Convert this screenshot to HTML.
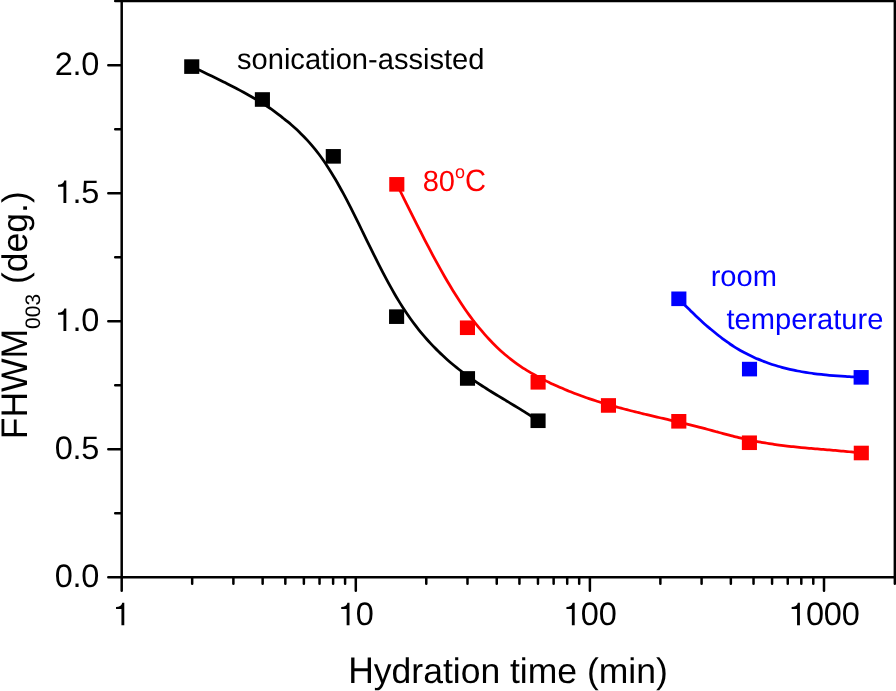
<!DOCTYPE html>
<html><head><meta charset="utf-8"><title>FHWM vs hydration time</title>
<style>
html,body{margin:0;padding:0;background:#fff;}
body{width:896px;height:691px;overflow:hidden;position:relative;font-family:"Liberation Sans",sans-serif;}
svg{will-change:transform;transform:translateZ(0);}
svg text{font-family:"Liberation Sans",sans-serif;text-rendering:geometricPrecision;}
</style></head><body>
<svg width="896" height="691" viewBox="0 0 896 691" style="position:absolute;left:0;top:0">
<path d="M108.30,577.30 L894.85,577.30 M121.70,1.10 L121.70,590.70 M115.20,1.10 L894.85,1.10 M894.85,1.10 L894.85,583.70 M115.20,513.30 L121.70,513.30 M108.30,449.30 L121.70,449.30 M115.20,385.30 L121.70,385.30 M108.30,321.30 L121.70,321.30 M115.20,257.30 L121.70,257.30 M108.30,193.30 L121.70,193.30 M115.20,129.30 L121.70,129.30 M108.30,65.30 L121.70,65.30 M192.17,577.30 L192.17,583.70 M233.39,577.30 L233.39,583.70 M262.64,577.30 L262.64,583.70 M285.33,577.30 L285.33,583.70 M303.87,577.30 L303.87,583.70 M319.54,577.30 L319.54,583.70 M333.11,577.30 L333.11,583.70 M345.09,577.30 L345.09,583.70 M355.80,577.30 L355.80,590.70 M426.27,577.30 L426.27,583.70 M467.49,577.30 L467.49,583.70 M496.74,577.30 L496.74,583.70 M519.43,577.30 L519.43,583.70 M537.97,577.30 L537.97,583.70 M553.64,577.30 L553.64,583.70 M567.21,577.30 L567.21,583.70 M579.19,577.30 L579.19,583.70 M589.90,577.30 L589.90,590.70 M660.37,577.30 L660.37,583.70 M701.59,577.30 L701.59,583.70 M730.84,577.30 L730.84,583.70 M753.53,577.30 L753.53,583.70 M772.07,577.30 L772.07,583.70 M787.74,577.30 L787.74,583.70 M801.31,577.30 L801.31,583.70 M813.29,577.30 L813.29,583.70 M824.00,577.30 L824.00,590.70" fill="none" stroke="#000" stroke-width="2.5" stroke-linecap="round"/>
<path d="M191.80,66.59 C192.46,66.91 194.45,67.84 195.78,68.47 C197.11,69.10 198.43,69.72 199.76,70.35 C201.09,70.98 202.41,71.61 203.74,72.24 C205.06,72.87 206.39,73.50 207.72,74.14 C209.04,74.77 210.37,75.41 211.70,76.05 C213.02,76.69 214.35,77.33 215.68,77.97 C217.00,78.62 218.33,79.27 219.66,79.92 C220.98,80.58 222.31,81.24 223.63,81.90 C224.96,82.56 226.29,83.23 227.61,83.90 C228.94,84.58 230.27,85.26 231.59,85.94 C232.92,86.63 234.25,87.32 235.57,88.02 C236.90,88.72 238.23,89.43 239.55,90.14 C240.88,90.85 242.20,91.57 243.53,92.30 C244.86,93.03 246.18,93.77 247.51,94.52 C248.84,95.27 250.16,96.02 251.49,96.79 C252.82,97.55 254.14,98.33 255.47,99.12 C256.80,99.90 258.12,100.70 259.45,101.50 C260.77,102.31 262.10,103.13 263.43,103.96 C264.75,104.79 266.08,105.62 267.41,106.48 C268.73,107.35 270.06,108.23 271.39,109.16 C272.71,110.10 274.04,111.09 275.37,112.08 C276.69,113.07 278.02,114.07 279.34,115.10 C280.67,116.14 282.00,117.22 283.32,118.27 C284.65,119.32 285.98,120.33 287.30,121.41 C288.63,122.48 289.96,123.56 291.28,124.69 C292.61,125.82 293.94,126.99 295.26,128.19 C296.59,129.40 297.91,130.64 299.24,131.93 C300.57,133.22 301.89,134.57 303.22,135.93 C304.55,137.30 305.87,138.70 307.20,140.14 C308.53,141.59 309.85,143.06 311.18,144.60 C312.51,146.14 313.83,147.73 315.16,149.39 C316.49,151.05 317.81,152.76 319.14,154.53 C320.46,156.31 321.79,158.13 323.12,160.02 C324.44,161.91 325.77,163.86 327.10,165.89 C328.42,167.91 329.75,170.03 331.08,172.18 C332.40,174.34 333.73,176.54 335.06,178.80 C336.38,181.05 337.71,183.36 339.03,185.71 C340.36,188.07 341.69,190.48 343.01,192.93 C344.34,195.38 345.67,197.89 346.99,200.43 C348.32,202.97 349.65,205.56 350.97,208.18 C352.30,210.80 353.63,213.45 354.95,216.12 C356.28,218.80 357.60,221.50 358.93,224.21 C360.26,226.91 361.58,229.64 362.91,232.36 C364.24,235.09 365.56,237.82 366.89,240.54 C368.22,243.26 369.54,245.98 370.87,248.67 C372.20,251.37 373.52,254.06 374.85,256.71 C376.17,259.37 377.50,262.01 378.83,264.62 C380.15,267.22 381.48,269.81 382.81,272.35 C384.13,274.89 385.46,277.41 386.79,279.88 C388.11,282.35 389.44,284.79 390.77,287.17 C392.09,289.56 393.42,291.90 394.74,294.19 C396.07,296.48 397.40,298.73 398.72,300.91 C400.05,303.10 401.38,305.22 402.70,307.29 C404.03,309.36 405.36,311.37 406.68,313.33 C408.01,315.29 409.34,317.19 410.66,319.04 C411.99,320.89 413.31,322.69 414.64,324.44 C415.97,326.19 417.29,327.90 418.62,329.56 C419.95,331.22 421.27,332.83 422.60,334.41 C423.93,335.98 425.25,337.51 426.58,339.01 C427.91,340.50 429.23,341.96 430.56,343.39 C431.89,344.81 433.21,346.20 434.54,347.56 C435.86,348.92 437.19,350.24 438.52,351.54 C439.84,352.84 441.17,354.11 442.50,355.35 C443.82,356.59 445.15,357.80 446.48,358.99 C447.80,360.18 449.13,361.34 450.46,362.47 C451.78,363.61 453.11,364.72 454.43,365.81 C455.76,366.90 457.09,367.97 458.41,369.01 C459.74,370.06 461.07,371.09 462.39,372.09 C463.72,373.10 465.05,374.09 466.37,375.06 C467.70,376.03 469.03,376.98 470.35,377.92 C471.68,378.85 473.00,379.77 474.33,380.68 C475.66,381.59 476.98,382.48 478.31,383.37 C479.64,384.25 480.96,385.12 482.29,385.98 C483.62,386.84 484.94,387.68 486.27,388.53 C487.60,389.37 488.92,390.20 490.25,391.02 C491.57,391.85 492.90,392.66 494.23,393.48 C495.55,394.29 496.88,395.10 498.21,395.90 C499.53,396.70 500.86,397.50 502.19,398.30 C503.51,399.10 504.84,399.90 506.17,400.70 C507.49,401.49 508.82,402.29 510.14,403.09 C511.47,403.89 512.80,404.69 514.12,405.49 C515.45,406.30 516.78,407.11 518.10,407.92 C519.43,408.73 520.76,409.55 522.08,410.38 C523.41,411.20 524.74,412.03 526.06,412.87 C527.39,413.72 528.71,414.56 530.04,415.42 C531.37,416.29 532.69,417.15 534.02,418.04 C535.35,418.92 537.34,420.28 538.00,420.72" fill="none" stroke="#000" stroke-width="2.75" stroke-linecap="butt" stroke-linejoin="round"/>
<path d="M396.80,184.23 C397.47,185.57 399.47,189.57 400.80,192.25 C402.14,194.92 403.47,197.60 404.81,200.28 C406.14,202.96 407.48,205.64 408.81,208.32 C410.15,210.99 411.48,213.67 412.82,216.33 C414.15,219.00 415.49,221.66 416.82,224.30 C418.16,226.95 419.49,229.59 420.83,232.21 C422.16,234.83 423.50,237.43 424.83,240.02 C426.16,242.60 427.50,245.17 428.83,247.72 C430.17,250.26 431.50,252.79 432.84,255.28 C434.17,257.77 435.51,260.25 436.84,262.69 C438.18,265.13 439.51,267.54 440.85,269.92 C442.18,272.30 443.52,274.65 444.85,276.97 C446.19,279.28 447.52,281.57 448.86,283.81 C450.19,286.06 451.53,288.27 452.86,290.45 C454.20,292.62 455.53,294.76 456.86,296.85 C458.20,298.95 459.53,301.00 460.87,303.02 C462.20,305.03 463.54,307.00 464.87,308.92 C466.21,310.85 467.54,312.73 468.88,314.57 C470.21,316.41 471.55,318.21 472.88,319.96 C474.22,321.72 475.55,323.43 476.89,325.10 C478.22,326.77 479.56,328.40 480.89,329.99 C482.23,331.58 483.56,333.13 484.89,334.64 C486.23,336.15 487.56,337.62 488.90,339.05 C490.23,340.48 491.57,341.88 492.90,343.23 C494.24,344.59 495.57,345.91 496.91,347.19 C498.24,348.47 499.58,349.71 500.91,350.92 C502.25,352.13 503.58,353.30 504.92,354.44 C506.25,355.57 507.59,356.67 508.92,357.74 C510.26,358.81 511.59,359.85 512.92,360.86 C514.26,361.87 515.59,362.84 516.93,363.79 C518.26,364.74 519.60,365.66 520.93,366.56 C522.27,367.45 523.60,368.32 524.94,369.17 C526.27,370.02 527.61,370.84 528.94,371.64 C530.28,372.44 531.61,373.22 532.95,373.99 C534.28,374.75 535.62,375.49 536.95,376.21 C538.29,376.94 539.62,377.65 540.96,378.34 C542.29,379.04 543.62,379.72 544.96,380.38 C546.29,381.05 547.63,381.71 548.96,382.35 C550.30,382.99 551.63,383.63 552.97,384.25 C554.30,384.87 555.64,385.48 556.97,386.08 C558.31,386.67 559.64,387.26 560.98,387.84 C562.31,388.42 563.65,388.98 564.98,389.54 C566.32,390.10 567.65,390.64 568.99,391.18 C570.32,391.72 571.65,392.25 572.99,392.77 C574.32,393.29 575.66,393.79 576.99,394.30 C578.33,394.80 579.66,395.29 581.00,395.77 C582.33,396.26 583.67,396.73 585.00,397.20 C586.34,397.67 587.67,398.12 589.01,398.58 C590.34,399.03 591.68,399.47 593.01,399.91 C594.35,400.35 595.68,400.78 597.02,401.20 C598.35,401.62 599.69,402.04 601.02,402.45 C602.35,402.86 603.69,403.26 605.02,403.66 C606.36,404.06 607.69,404.45 609.03,404.84 C610.36,405.22 611.70,405.60 613.03,405.98 C614.37,406.35 615.70,406.73 617.04,407.09 C618.37,407.46 619.71,407.82 621.04,408.17 C622.38,408.53 623.71,408.88 625.05,409.23 C626.38,409.58 627.72,409.93 629.05,410.27 C630.38,410.61 631.72,410.95 633.05,411.28 C634.39,411.61 635.72,411.95 637.06,412.27 C638.39,412.60 639.73,412.93 641.06,413.25 C642.40,413.58 643.73,413.90 645.07,414.22 C646.40,414.54 647.74,414.86 649.07,415.17 C650.41,415.49 651.74,415.80 653.08,416.12 C654.41,416.43 655.75,416.74 657.08,417.05 C658.41,417.37 659.75,417.68 661.08,417.99 C662.42,418.30 663.75,418.61 665.09,418.92 C666.42,419.23 667.76,419.54 669.09,419.86 C670.43,420.17 671.76,420.48 673.10,420.79 C674.43,421.11 675.77,421.42 677.10,421.74 C678.44,422.05 679.77,422.37 681.11,422.69 C682.44,423.01 683.78,423.33 685.11,423.65 C686.45,423.97 687.78,424.30 689.11,424.62 C690.45,424.95 691.78,425.28 693.12,425.61 C694.45,425.95 695.79,426.28 697.12,426.62 C698.46,426.96 699.79,427.30 701.13,427.65 C702.46,428.00 703.80,428.35 705.13,428.70 C706.47,429.06 707.80,429.41 709.14,429.77 C710.47,430.13 711.81,430.49 713.14,430.86 C714.48,431.22 715.81,431.58 717.14,431.95 C718.48,432.31 719.81,432.67 721.15,433.03 C722.48,433.39 723.82,433.75 725.15,434.11 C726.49,434.46 727.82,434.82 729.16,435.17 C730.49,435.52 731.83,435.86 733.16,436.20 C734.50,436.54 735.83,436.88 737.17,437.20 C738.50,437.53 739.84,437.85 741.17,438.16 C742.51,438.48 743.84,438.78 745.17,439.08 C746.51,439.38 747.84,439.67 749.18,439.95 C750.51,440.23 751.85,440.50 753.18,440.77 C754.52,441.04 755.85,441.29 757.19,441.54 C758.52,441.80 759.86,442.04 761.19,442.28 C762.53,442.51 763.86,442.74 765.20,442.97 C766.53,443.19 767.87,443.40 769.20,443.61 C770.54,443.82 771.87,444.02 773.21,444.22 C774.54,444.42 775.87,444.61 777.21,444.79 C778.54,444.97 779.88,445.15 781.21,445.32 C782.55,445.49 783.88,445.66 785.22,445.82 C786.55,445.98 787.89,446.14 789.22,446.29 C790.56,446.44 791.89,446.59 793.23,446.73 C794.56,446.87 795.90,447.01 797.23,447.15 C798.57,447.28 799.90,447.42 801.24,447.54 C802.57,447.67 803.90,447.80 805.24,447.92 C806.57,448.05 807.91,448.17 809.24,448.29 C810.58,448.40 811.91,448.52 813.25,448.64 C814.58,448.75 815.92,448.87 817.25,448.98 C818.59,449.09 819.92,449.20 821.26,449.31 C822.59,449.43 823.93,449.54 825.26,449.65 C826.60,449.76 827.93,449.87 829.27,449.98 C830.60,450.09 831.94,450.20 833.27,450.32 C834.60,450.43 835.94,450.54 837.27,450.66 C838.61,450.77 839.94,450.89 841.28,451.01 C842.61,451.13 843.95,451.25 845.28,451.37 C846.62,451.49 847.95,451.62 849.29,451.75 C850.62,451.88 851.96,452.01 853.29,452.14 C854.63,452.28 855.96,452.42 857.30,452.56 C858.63,452.70 860.63,452.93 861.30,453.00" fill="none" stroke="#f00" stroke-width="2.75" stroke-linecap="butt" stroke-linejoin="round"/>
<path d="M678.85,298.74 C679.51,299.47 681.49,301.71 682.81,303.09 C684.13,304.48 685.46,305.77 686.78,307.07 C688.10,308.37 689.42,309.61 690.74,310.89 C692.06,312.17 693.38,313.47 694.70,314.75 C696.02,316.02 697.34,317.30 698.67,318.54 C699.99,319.78 701.31,320.99 702.63,322.18 C703.95,323.37 705.27,324.53 706.59,325.67 C707.91,326.81 709.23,327.91 710.55,329.02 C711.88,330.12 713.20,331.23 714.52,332.31 C715.84,333.39 717.16,334.46 718.48,335.51 C719.80,336.55 721.12,337.57 722.44,338.56 C723.76,339.56 725.09,340.53 726.41,341.48 C727.73,342.43 729.05,343.37 730.37,344.26 C731.69,345.15 733.01,346.00 734.33,346.82 C735.65,347.64 736.97,348.43 738.30,349.19 C739.62,349.96 740.94,350.71 742.26,351.43 C743.58,352.16 744.90,352.86 746.22,353.54 C747.54,354.23 748.86,354.89 750.18,355.53 C751.51,356.17 752.83,356.79 754.15,357.39 C755.47,357.99 756.79,358.57 758.11,359.13 C759.43,359.69 760.75,360.23 762.07,360.76 C763.39,361.28 764.72,361.79 766.04,362.27 C767.36,362.76 768.68,363.23 770.00,363.69 C771.32,364.14 772.64,364.58 773.96,365.00 C775.28,365.42 776.61,365.82 777.93,366.21 C779.25,366.60 780.57,366.98 781.89,367.34 C783.21,367.70 784.53,368.04 785.85,368.37 C787.17,368.70 788.49,369.02 789.82,369.33 C791.14,369.63 792.46,369.92 793.78,370.20 C795.10,370.48 796.42,370.75 797.74,371.00 C799.06,371.26 800.38,371.50 801.70,371.73 C803.03,371.96 804.35,372.18 805.67,372.40 C806.99,372.61 808.31,372.81 809.63,373.00 C810.95,373.19 812.27,373.38 813.59,373.55 C814.91,373.72 816.24,373.89 817.56,374.05 C818.88,374.20 820.20,374.35 821.52,374.49 C822.84,374.64 824.16,374.77 825.48,374.90 C826.80,375.03 828.12,375.15 829.45,375.27 C830.77,375.38 832.09,375.49 833.41,375.60 C834.73,375.71 836.05,375.81 837.37,375.90 C838.69,376.00 840.01,376.09 841.33,376.18 C842.66,376.27 843.98,376.35 845.30,376.44 C846.62,376.52 847.94,376.60 849.26,376.68 C850.58,376.76 851.90,376.83 853.22,376.91 C854.54,376.98 855.87,377.05 857.19,377.13 C858.51,377.20 860.49,377.31 861.15,377.34" fill="none" stroke="#00f" stroke-width="2.75" stroke-linecap="butt" stroke-linejoin="round"/>
<rect x="184.20" y="59.30" width="15.1" height="14.6" fill="#000"/>
<rect x="254.85" y="92.20" width="15.1" height="14.6" fill="#000"/>
<rect x="325.75" y="149.05" width="15.1" height="14.6" fill="#000"/>
<rect x="389.05" y="309.35" width="15.1" height="14.6" fill="#000"/>
<rect x="459.95" y="371.15" width="15.1" height="14.6" fill="#000"/>
<rect x="530.50" y="413.45" width="15.1" height="14.6" fill="#000"/>
<rect x="389.25" y="177.05" width="15.1" height="14.6" fill="#f00"/>
<rect x="459.90" y="320.45" width="15.1" height="14.6" fill="#f00"/>
<rect x="530.55" y="375.00" width="15.1" height="14.6" fill="#f00"/>
<rect x="600.90" y="398.15" width="15.1" height="14.6" fill="#f00"/>
<rect x="671.25" y="414.00" width="15.1" height="14.6" fill="#f00"/>
<rect x="741.85" y="435.45" width="15.1" height="14.6" fill="#f00"/>
<rect x="853.75" y="445.70" width="15.1" height="14.6" fill="#f00"/>
<rect x="671.30" y="291.50" width="15.1" height="14.6" fill="#00f"/>
<rect x="741.95" y="361.80" width="15.1" height="14.6" fill="#00f"/>
<rect x="853.60" y="370.05" width="15.1" height="14.6" fill="#00f"/>
<text y="75" font-family="Liberation Sans, sans-serif" font-size="32.5" fill="#000" text-anchor="middle"><tspan x="63.72">2</tspan><tspan x="77.06">.</tspan><tspan x="90.40">0</tspan></text>
<text y="203" font-family="Liberation Sans, sans-serif" font-size="32.5" fill="#000" text-anchor="middle"><tspan x="63.72">1</tspan><tspan x="77.06">.</tspan><tspan x="90.40">5</tspan></text>
<rect x="56.02" y="178.50" width="16.2" height="25.7" fill="#fff"/>
<path d="M66.31,202.90 L63.46,202.90 L63.46,186.74 L58.05,186.74 L58.05,184.72 C61.22,184.72 63.62,183.38 64.29,180.40 L66.31,180.40 Z" fill="#000"/>
<text y="331" font-family="Liberation Sans, sans-serif" font-size="32.5" fill="#000" text-anchor="middle"><tspan x="63.72">1</tspan><tspan x="77.06">.</tspan><tspan x="90.40">0</tspan></text>
<rect x="56.02" y="306.50" width="16.2" height="25.7" fill="#fff"/>
<path d="M66.31,330.90 L63.46,330.90 L63.46,314.74 L58.05,314.74 L58.05,312.72 C61.22,312.72 63.62,311.38 64.29,308.40 L66.31,308.40 Z" fill="#000"/>
<text y="459" font-family="Liberation Sans, sans-serif" font-size="32.5" fill="#000" text-anchor="middle"><tspan x="63.72">0</tspan><tspan x="77.06">.</tspan><tspan x="90.40">5</tspan></text>
<text y="587" font-family="Liberation Sans, sans-serif" font-size="32.5" fill="#000" text-anchor="middle"><tspan x="63.72">0</tspan><tspan x="77.06">.</tspan><tspan x="90.40">0</tspan></text>
<text y="625" font-family="Liberation Sans, sans-serif" font-size="32.5" fill="#000" text-anchor="middle"><tspan x="121.70">1</tspan></text>
<rect x="114.00" y="600.50" width="16.2" height="25.7" fill="#fff"/>
<path d="M124.29,625.20 L121.44,625.20 L121.44,609.04 L116.04,609.04 L116.04,607.02 C119.20,607.02 121.60,605.68 122.28,602.70 L124.29,602.70 Z" fill="#000"/>
<text y="625" font-family="Liberation Sans, sans-serif" font-size="32.5" fill="#000" text-anchor="middle"><tspan x="346.90">1</tspan><tspan x="364.70">0</tspan></text>
<rect x="339.21" y="600.50" width="16.2" height="25.7" fill="#fff"/>
<path d="M349.50,625.20 L346.65,625.20 L346.65,609.04 L341.24,609.04 L341.24,607.02 C344.41,607.02 346.81,605.68 347.48,602.70 L349.50,602.70 Z" fill="#000"/>
<text y="625" font-family="Liberation Sans, sans-serif" font-size="32.5" fill="#000" text-anchor="middle"><tspan x="572.11">1</tspan><tspan x="589.90">0</tspan><tspan x="607.69">0</tspan></text>
<rect x="564.41" y="600.50" width="16.2" height="25.7" fill="#fff"/>
<path d="M574.70,625.20 L571.85,625.20 L571.85,609.04 L566.44,609.04 L566.44,607.02 C569.61,607.02 572.01,605.68 572.68,602.70 L574.70,602.70 Z" fill="#000"/>
<text y="625" font-family="Liberation Sans, sans-serif" font-size="32.5" fill="#000" text-anchor="middle"><tspan x="797.31">1</tspan><tspan x="815.10">0</tspan><tspan x="832.90">0</tspan><tspan x="850.69">0</tspan></text>
<rect x="789.62" y="600.50" width="16.2" height="25.7" fill="#fff"/>
<path d="M799.90,625.20 L797.06,625.20 L797.06,609.04 L791.65,609.04 L791.65,607.02 C794.82,607.02 797.22,605.68 797.89,602.70 L799.90,602.70 Z" fill="#000"/>
<g><text transform="translate(348.20,683.00) scale(1,1.0436)" font-family="Liberation Sans, sans-serif" font-size="35.5" fill="#000">H</text><text x="373.83" y="683" font-family="Liberation Sans, sans-serif" font-size="35.5" fill="#000" text-anchor="start" >ydration time (min)</text></g>
<g><text transform="translate(27.00,439.30) rotate(-90) scale(1,1.0436)" font-family="Liberation Sans, sans-serif" font-size="35.5" fill="#000">FHWM</text><text transform="translate(39.70,328.89) rotate(-90) scale(1,1)" font-family="Liberation Sans, sans-serif" font-size="21" fill="#000">003</text><text transform="translate(27.00,284.00) rotate(-90) scale(1,1)" font-family="Liberation Sans, sans-serif" font-size="35.5" fill="#000"> (deg.)</text></g>
<text x="237.0" y="69" font-family="Liberation Sans, sans-serif" font-size="29.1" fill="#000" text-anchor="start" >sonication-assisted</text>
<g><text x="422.7" y="191" font-family="Liberation Sans, sans-serif" font-size="29.1" fill="#f00" text-anchor="start" >80</text><text x="455.06" y="178" font-family="Liberation Sans, sans-serif" font-size="18" fill="#f00" text-anchor="start" >o</text><text transform="translate(465.07,191.00) scale(1,1.06)" font-family="Liberation Sans, sans-serif" font-size="29.1" fill="#f00">C</text></g>
<text x="710.65" y="286" font-family="Liberation Sans, sans-serif" font-size="29.1" fill="#00f" text-anchor="start" >room</text>
<text x="726.5" y="329" font-family="Liberation Sans, sans-serif" font-size="29.1" fill="#00f" text-anchor="start" >temperature</text>
</svg>
</body></html>
